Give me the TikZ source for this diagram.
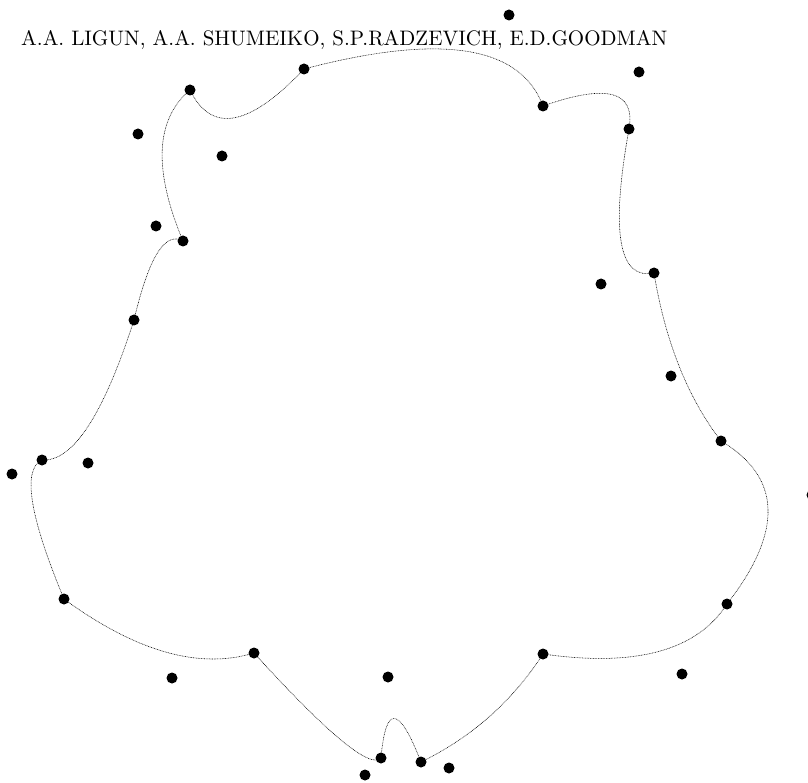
\documentclass[tikz,border=0pt]{standalone}
\usetikzlibrary{calc}
\begin{document}
\begin{tikzpicture}[x=1pt,y=-1pt,
  pt/.style={circle,fill=black,draw=none,minimum size=11pt,inner sep=0pt},
  curve/.style={line width=0.55pt,black,dash pattern=on 0.8pt off 0.8pt}]
\useasboundingbox (0,0) rectangle (808,783);
% header
\node[anchor=base west,inner sep=0pt] (hdr) at (21,46)
  {\resizebox{646pt}{!}{A.A. LIGUN, A.A. SHUMEIKO, S.P.RADZEVICH, E.D.GOODMAN}};
% points on the curve
\node[pt] (p1) at (304,69) {};
\node[pt] (p2) at (543,106) {};
\node[pt] (p3) at (629,129) {};
\node[pt] (p4) at (654,273) {};
\node[pt] (p5) at (721,441) {};
\node[pt] (p6) at (727,604) {};
\node[pt] (p7) at (543,654) {};
\node[pt] (p8) at (421,762) {};
\node[pt] (p9) at (381,758) {};
\node[pt] (p10) at (254,653) {};
\node[pt] (p11) at (64,599) {};
\node[pt] (p12) at (42,460) {};
\node[pt] (p13) at (134,320) {};
\node[pt] (p14) at (183,241) {};
\node[pt] (p15) at (190,90) {};
% control points
\node[pt] (q1) at (509,15) {};
\node[pt] (q2) at (639,72) {};
\node[pt] (q3) at (601,284) {};
\node[pt] (q4) at (671,376) {};
\node[pt] (q5) at (812,495) {};
\node[pt] (q6) at (682,674) {};
\coordinate (q7) at (497,725);
\node[pt] (q8) at (388,677) {};
\node[pt] (q9) at (365,775) {};
\node[pt] (q10) at (172,678) {};
\node[pt] (q11) at (12,474) {};
\node[pt] (q12) at (88,463) {};
\node[pt] (q13) at (156,226) {};
\node[pt] (q14) at (138,134) {};
\node[pt] (q15) at (222,156) {};
\node[pt] (x1) at (449,768) {};
% the closed curve made of quadratic arcs
\foreach \a/\q/\b in {p1/q1/p2,p2/q2/p3,p3/q3/p4,p4/q4/p5,p5/q5/p6,p6/q6/p7,
  p7/q7/p8,p8/q8/p9,p9/q9/p10,p10/q10/p11,p11/q11/p12,p12/q12/p13,
  p13/q13/p14,p14/q14/p15,p15/q15/p1}{
  \draw[curve] (\a.center) .. controls ($(\a.center)!2/3!(\q.center)$)
    and ($(\b.center)!2/3!(\q.center)$) .. (\b.center);
}
\end{tikzpicture}
\end{document}
